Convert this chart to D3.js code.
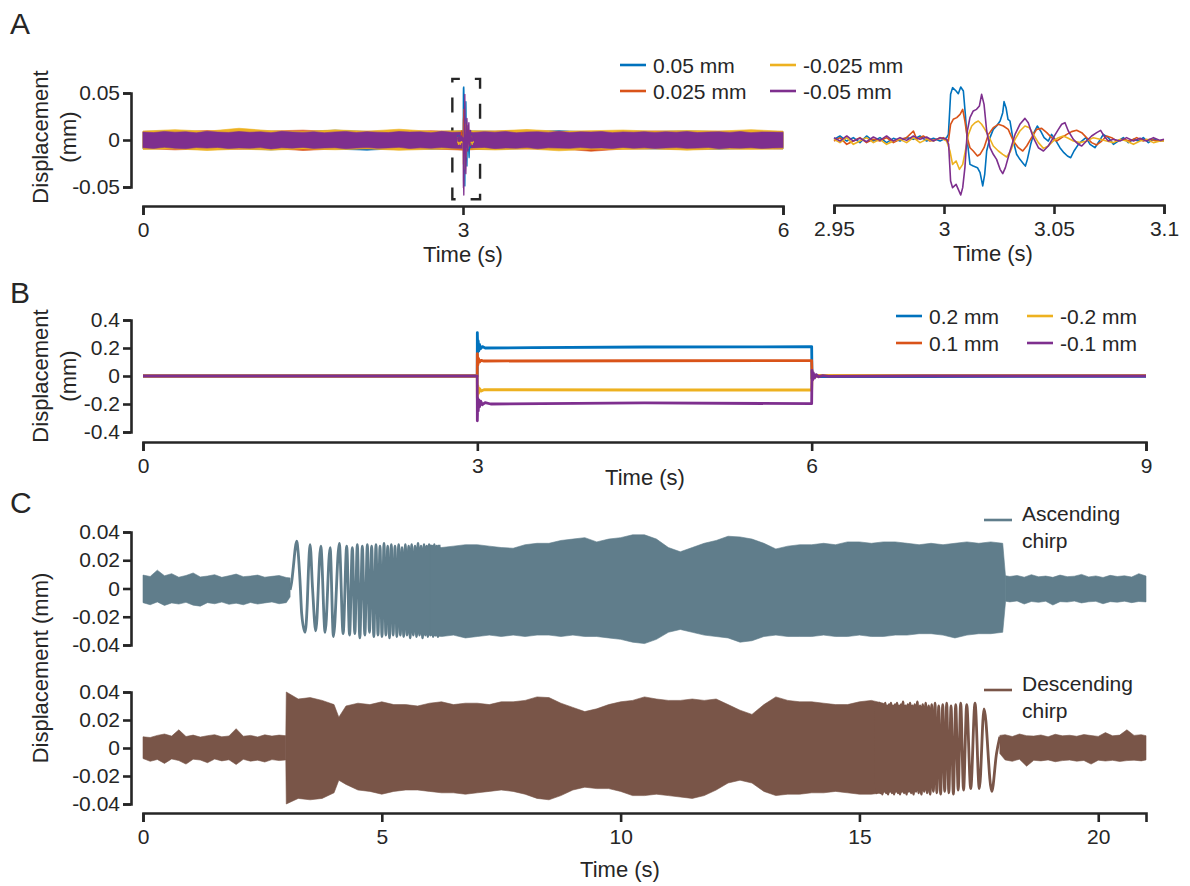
<!DOCTYPE html>
<html>
<head>
<meta charset="utf-8">
<script src="https://cdn.jsdelivr.net/npm/d3@7"></script>
<style>
  body { margin: 0; background: #fff; }
</style>
</head>
<body>
<div id="chart"></div>
<script>
// ---------------- data ----------------
const seriesColors = ["#0072BD", "#D95319", "#EDB120", "#7E2F8E"];
const legendA = ["0.05 mm", "0.025 mm", "-0.025 mm", "-0.05 mm"];
const legendB = ["0.2 mm", "0.1 mm", "-0.2 mm", "-0.1 mm"];
const chirpNames = ["Ascending chirp", "Descending chirp"];
const chirpColors = ["#607D8B", "#795548"];

const ticksAx = [0, 3, 6];
const ticksAy = [-0.05, 0, 0.05];
const ticksAzoom = [2.95, 3, 3.05, 3.1];
const ticksBx = [0, 3, 6, 9];
const ticksBy = [-0.4, -0.2, 0, 0.2, 0.4];
const ticksCx = [0, 5, 10, 15, 20];
const ticksCy = [-0.04, -0.02, 0, 0.02, 0.04];

// panel A, noise envelope (s, mm)
const tA = [0,0.1,0.2,0.3,0.4,0.5,0.6,0.7,0.8,0.9,1,1.1,1.2,1.3,1.4,1.5,1.6,1.7,1.8,1.9,
  2,2.1,2.2,2.3,2.4,2.5,2.6,2.7,2.8,2.9,3,3.1,3.2,3.3,3.4,3.5,3.6,3.7,3.8,3.9,
  4,4.1,4.2,4.3,4.4,4.5,4.6,4.7,4.8,4.9,5,5.1,5.2,5.3,5.4,5.5,5.6,5.7,5.8,5.9,6];
const purpleUpA = [0.0085,0.0079,0.0091,0.0083,0.0088,0.0076,0.0093,0.0084,0.0080,0.0090,
  0.0082,0.0087,0.0078,0.0092,0.0085,0.0081,0.0089,0.0077,0.0086,0.0091,
  0.0080,0.0088,0.0083,0.0079,0.0090,0.0084,0.0087,0.0078,0.0092,0.0082,
  0.0086,0.0080,0.0089,0.0083,0.0091,0.0077,0.0085,0.0088,0.0081,0.0093,
  0.0079,0.0087,0.0084,0.0090,0.0078,0.0086,0.0082,0.0089,0.0080,0.0088,
  0.0083,0.0091,0.0079,0.0085,0.0087,0.0081,0.0090,0.0078,0.0086,0.0084,0.0082];
const purpleLoA = [-0.0082,-0.0090,-0.0078,-0.0087,-0.0093,-0.0080,-0.0086,-0.0079,-0.0091,-0.0084,
  -0.0088,-0.0081,-0.0095,-0.0083,-0.0087,-0.0079,-0.0090,-0.0085,-0.0082,-0.0092,
  -0.0086,-0.0080,-0.0089,-0.0084,-0.0078,-0.0091,-0.0083,-0.0088,-0.0081,-0.0087,
  -0.0090,-0.0084,-0.0079,-0.0092,-0.0085,-0.0088,-0.0080,-0.0094,-0.0083,-0.0086,
  -0.0089,-0.0081,-0.0087,-0.0084,-0.0091,-0.0079,-0.0088,-0.0083,-0.0090,-0.0085,
  -0.0081,-0.0089,-0.0086,-0.0080,-0.0092,-0.0084,-0.0087,-0.0082,-0.0090,-0.0085,-0.0083];
const tA2 = [0,0.3,0.6,0.9,1.2,1.5,1.8,2.1,2.4,2.7,3,3.3,3.6,3.9,4.2,4.5,4.8,5.1,5.4,5.7,6];
const blueUpA = [0.0090,0.0100,0.0085,0.0110,0.0092,0.0088,0.0105,0.0090,0.0095,0.0087,0.0098,0.0092,0.0089,0.0100,0.0086,0.0094,0.0090,0.0097,0.0088,0.0093,0.0090];
const blueLoA = [-0.0095,-0.0088,-0.0100,-0.0092,-0.0105,-0.0090,-0.0096,-0.0110,-0.0089,-0.0098,-0.0093,-0.0100,-0.0090,-0.0096,-0.0102,-0.0091,-0.0097,-0.0093,-0.0099,-0.0090,-0.0094];
const orangeUpA = [0.0092,0.0088,0.0100,0.0090,0.0096,0.0105,0.0089,0.0094,0.0091,0.0099,0.0088,0.0095,0.0102,0.0090,0.0093,0.0089,0.0097,0.0091,0.0094,0.0088,0.0092];
const orangeLoA = [-0.0090,-0.0105,-0.0093,-0.0098,-0.0089,-0.0112,-0.0095,-0.0092,-0.0100,-0.0094,-0.0108,-0.0091,-0.0097,-0.0093,-0.0120,-0.0096,-0.0092,-0.0101,-0.0094,-0.0090,-0.0095];
const yellowUpA = [0.0095,0.0110,0.0093,0.0125,0.0098,0.0090,0.0108,0.0094,0.0115,0.0092,0.0100,0.0096,0.0112,0.0093,0.0099,0.0106,0.0094,0.0101,0.0095,0.0110,0.0093];
const yellowLoA = [-0.0100,-0.0094,-0.0112,-0.0097,-0.0108,-0.0095,-0.0104,-0.0093,-0.0110,-0.0099,-0.0096,-0.0106,-0.0094,-0.0115,-0.0098,-0.0101,-0.0095,-0.0108,-0.0097,-0.0100,-0.0096];
const zoomBox = [[2.9, 0.065], [3.16, -0.063]];

// panel A, traces around the step (s, mm)
const blueZoom = [[2.9500,0.0007],[2.9527,0.0043],[2.9558,-0.0011],[2.9588,0.0025],[2.9618,-0.0028],[2.9648,0.0043],[2.9679,-0.0011],[2.9709,0.0025],[2.9739,-0.0028],[2.9770,0.0018],[2.9800,-0.0011],[2.9830,0.0025],[2.9861,0.0007],[2.9891,0.0043],[2.9921,-0.0011],[2.9952,0.0018],[2.9982,-0.0011],[3.0012,0.0025],[3.0020,0.0060],[3.0030,0.0486],[3.0039,0.0557],[3.0055,0.0521],[3.0065,0.0493],[3.0076,0.0564],[3.0088,0.0521],[3.0097,0.0273],[3.0106,-0.0011],[3.0118,-0.0259],[3.0133,-0.0277],[3.0152,-0.0294],[3.0164,-0.0348],[3.0176,-0.0489],[3.0185,-0.0365],[3.0194,-0.0117],[3.0209,0.0025],[3.0224,0.0113],[3.0239,0.0149],[3.0255,0.0202],[3.0267,0.0291],[3.0273,0.0408],[3.0282,0.0344],[3.0291,0.0220],[3.0300,0.0202],[3.0315,-0.0011],[3.0330,-0.0152],[3.0345,-0.0206],[3.0361,-0.0252],[3.0370,-0.0277],[3.0379,-0.0206],[3.0394,-0.0046],[3.0409,0.0078],[3.0424,0.0149],[3.0439,0.0096],[3.0455,0.0025],[3.0474,-0.0011],[3.0489,0.0060],[3.0505,0.0007],[3.0527,-0.0082],[3.0545,-0.0135],[3.0561,-0.0170],[3.0576,-0.0188],[3.0591,-0.0117],[3.0611,-0.0046],[3.0626,-0.0011],[3.0645,0.0025],[3.0664,-0.0046],[3.0686,-0.0082],[3.0706,-0.0011],[3.0724,0.0060],[3.0747,0.0025],[3.0770,-0.0046],[3.0792,-0.0011],[3.0815,0.0025],[3.0838,-0.0028],[3.0861,0.0007],[3.0883,-0.0011],[3.0906,0.0025],[3.0929,-0.0028],[3.0952,0.0007],[3.0982,-0.0011],[3.1000,-0.0004]];
const orangeZoom = [[2.9500,-0.0011],[2.9527,0.0025],[2.9558,-0.0046],[2.9588,-0.0011],[2.9618,0.0025],[2.9648,-0.0028],[2.9679,0.0007],[2.9709,-0.0011],[2.9739,0.0025],[2.9770,-0.0028],[2.9800,0.0007],[2.9830,0.0025],[2.9861,0.0096],[2.9876,0.0007],[2.9906,0.0043],[2.9936,-0.0011],[2.9967,0.0007],[2.9997,0.0025],[3.0020,-0.0011],[3.0030,0.0167],[3.0042,0.0220],[3.0058,0.0238],[3.0073,0.0273],[3.0085,0.0326],[3.0095,0.0202],[3.0106,0.0025],[3.0118,-0.0082],[3.0133,-0.0117],[3.0152,-0.0170],[3.0164,-0.0152],[3.0182,-0.0082],[3.0202,0.0060],[3.0224,0.0131],[3.0247,0.0167],[3.0270,0.0149],[3.0292,0.0113],[3.0315,-0.0011],[3.0338,-0.0082],[3.0358,-0.0117],[3.0376,-0.0064],[3.0398,0.0025],[3.0421,0.0113],[3.0444,0.0124],[3.0467,0.0078],[3.0489,0.0025],[3.0512,-0.0011],[3.0535,0.0025],[3.0558,0.0060],[3.0580,0.0089],[3.0603,0.0103],[3.0626,0.0078],[3.0648,0.0025],[3.0671,-0.0028],[3.0694,-0.0053],[3.0717,-0.0011],[3.0739,0.0043],[3.0762,0.0025],[3.0785,-0.0011],[3.0815,0.0007],[3.0845,-0.0011],[3.0876,0.0025],[3.0906,-0.0011],[3.0936,0.0007],[3.0967,-0.0011],[3.1000,-0.0004]];
const yellowZoom = [[2.9500,0.0007],[2.9527,-0.0028],[2.9558,0.0025],[2.9588,-0.0046],[2.9618,-0.0011],[2.9648,0.0025],[2.9679,-0.0028],[2.9709,0.0007],[2.9739,-0.0046],[2.9770,-0.0011],[2.9800,0.0007],[2.9830,-0.0028],[2.9861,0.0025],[2.9891,-0.0028],[2.9921,0.0007],[2.9952,-0.0011],[2.9982,0.0025],[3.0012,-0.0011],[3.0027,-0.0117],[3.0039,-0.0259],[3.0055,-0.0223],[3.0070,-0.0312],[3.0085,-0.0259],[3.0097,-0.0117],[3.0111,0.0060],[3.0126,0.0149],[3.0141,0.0184],[3.0156,0.0202],[3.0171,0.0167],[3.0186,0.0113],[3.0206,0.0025],[3.0224,-0.0064],[3.0247,-0.0117],[3.0267,-0.0152],[3.0285,-0.0181],[3.0303,-0.0117],[3.0323,0.0007],[3.0345,0.0096],[3.0368,0.0149],[3.0388,0.0131],[3.0406,0.0060],[3.0429,-0.0028],[3.0452,-0.0089],[3.0474,-0.0064],[3.0497,-0.0011],[3.0520,0.0025],[3.0542,0.0043],[3.0565,0.0018],[3.0588,-0.0011],[3.0618,-0.0028],[3.0648,-0.0011],[3.0679,0.0025],[3.0709,0.0007],[3.0739,-0.0011],[3.0770,-0.0028],[3.0800,0.0007],[3.0830,-0.0011],[3.0861,-0.0046],[3.0891,-0.0011],[3.0921,0.0007],[3.0952,-0.0028],[3.0982,-0.0011],[3.1000,-0.0011]];
const purpleZoom = [[2.9500,0.0025],[2.9527,-0.0011],[2.9558,0.0043],[2.9588,-0.0011],[2.9618,0.0018],[2.9648,-0.0018],[2.9679,0.0032],[2.9709,-0.0004],[2.9739,0.0043],[2.9770,-0.0011],[2.9800,0.0025],[2.9830,-0.0004],[2.9861,0.0043],[2.9891,0.0007],[2.9921,0.0032],[2.9952,-0.0011],[2.9982,0.0025],[3.0012,0.0007],[3.0021,-0.0046],[3.0030,-0.0436],[3.0039,-0.0507],[3.0055,-0.0472],[3.0065,-0.0525],[3.0076,-0.0585],[3.0085,-0.0507],[3.0095,-0.0294],[3.0106,0.0096],[3.0118,0.0238],[3.0133,0.0309],[3.0148,0.0326],[3.0161,0.0362],[3.0171,0.0486],[3.0182,0.0379],[3.0194,0.0096],[3.0209,-0.0082],[3.0224,-0.0152],[3.0239,-0.0206],[3.0255,-0.0312],[3.0267,-0.0358],[3.0279,-0.0294],[3.0300,-0.0117],[3.0323,0.0060],[3.0345,0.0167],[3.0368,0.0230],[3.0383,0.0184],[3.0406,0.0025],[3.0429,-0.0082],[3.0452,-0.0117],[3.0474,-0.0064],[3.0497,0.0025],[3.0520,0.0113],[3.0535,0.0167],[3.0550,0.0184],[3.0565,0.0096],[3.0588,0.0007],[3.0611,-0.0046],[3.0626,-0.0064],[3.0648,-0.0011],[3.0671,0.0043],[3.0694,0.0078],[3.0712,0.0103],[3.0727,0.0043],[3.0747,-0.0011],[3.0770,0.0007],[3.0800,-0.0011],[3.0830,0.0025],[3.0861,-0.0011],[3.0891,0.0018],[3.0921,-0.0011],[3.0952,0.0025],[3.0982,-0.0004],[3.1000,0.0007]];

// panel B, step responses (s, mm)
const blueB = [[0,0],[2.999,0],[3.0,0.31],[3.004,0.17],[3.008,0.25],[3.013,0.18],[3.02,0.225],[3.03,0.195],[3.045,0.21],[3.07,0.2],[3.5,0.203],[4.5,0.207],[5.5,0.208],[5.999,0.21],[6.0,0.21],[6.003,-0.02],[6.01,0.015],[6.02,-0.012],[6.04,0.005],[6.08,-0.004],[7,-0.004],[8,-0.003],[9,-0.003]];
const orangeB = [[0,0],[2.999,0],[3.0,0.16],[3.005,0.08],[3.01,0.125],[3.02,0.1],[3.035,0.112],[3.06,0.107],[4.5,0.109],[5.999,0.11],[6.0,0.11],[6.004,-0.015],[6.012,0.01],[6.03,-0.004],[6.06,0.002],[9,0.002]];
const yellowB = [[0,0],[2.999,0],[3.0,-0.16],[3.005,-0.07],[3.01,-0.125],[3.02,-0.09],[3.035,-0.108],[3.06,-0.098],[4.5,-0.1],[5.999,-0.1],[6.0,-0.1],[6.004,0.015],[6.012,-0.01],[6.03,0.004],[6.06,0.003],[9,0.003]];
const purpleB = [[0,0],[2.999,0],[3.0,-0.32],[3.004,-0.16],[3.008,-0.25],[3.013,-0.17],[3.02,-0.22],[3.03,-0.18],[3.045,-0.205],[3.07,-0.19],[3.12,-0.2],[4.5,-0.192],[5.999,-0.198],[6.0,-0.198],[6.003,0.04],[6.008,-0.03],[6.015,0.022],[6.025,-0.015],[6.04,0.01],[6.06,-0.006],[6.1,0.003],[6.15,-0.002],[7,0],[9,0]];

// panel C, ascending chirp (s, mm)
const ascPreT = [0,0.15,0.3,0.45,0.6,0.75,0.9,1.05,1.2,1.35,1.5,1.65,1.8,1.95,2.1,2.25,2.4,2.55,2.7,2.85,3.0,3.08];
const ascPreUp = [0.0095,0.0085,0.0130,0.0090,0.0105,0.0080,0.0092,0.0110,0.0082,0.0088,0.0098,0.0079,0.0090,0.0102,0.0084,0.0088,0.0095,0.0080,0.0086,0.0092,0.0078,0.0075];
const ascPreLo = [-0.0100,-0.0115,-0.0095,-0.0120,-0.0102,-0.0110,-0.0098,-0.0118,-0.0125,-0.0100,-0.0108,-0.0096,-0.0112,-0.0104,-0.0115,-0.0099,-0.0110,-0.0102,-0.0095,-0.0108,-0.0100,-0.0060];
const ascChirp = [[3.08,-0.001],[3.11,0.004],[3.15,0.016],[3.19,0.029],[3.218,0.0335],[3.25,0.025],[3.288,0.005],[3.323,-0.018],[3.393,-0.031],[3.44,-0.01],[3.463,0.012],[3.498,0.031],[3.55,0.0],[3.617,-0.030],[3.722,0.030],[3.813,-0.031],[3.917,0.029],[3.987,-0.034],[4.11,0.032],[4.19,-0.032],[4.265,0.030],[4.325,-0.033],[4.383,0.029],[4.435,-0.032],[4.487,0.031],[4.54,-0.035],[4.592,0.030],[4.645,-0.033],[4.697,0.031],[4.742,-0.031],[4.787,0.030],[4.833,-0.034],[4.878,0.031],[4.92,-0.033],[4.962,0.030],[5.004,-0.034],[5.046,0.032],[5.085,-0.033],[5.123,0.030],[5.161,-0.035],[5.199,0.031],[5.238,-0.033],[5.276,0.030],[5.315,-0.034],[5.353,0.031],[5.388,-0.033],[5.423,0.029],[5.458,-0.034],[5.493,0.031],[5.528,-0.033],[5.562,0.030],[5.594,-0.035],[5.625,0.031],[5.66,-0.033],[5.695,0.030],[5.727,-0.034],[5.758,0.032],[5.79,-0.033],[5.821,0.030],[5.853,-0.035],[5.884,0.031],[5.912,-0.033],[5.94,0.030],[5.965,-0.034],[5.99,0.031],[6.02,-0.033],[6.05,0.030],[6.075,-0.034],[6.10,0.031],[6.125,-0.033],[6.15,0.030],[6.175,-0.034],[6.20,0.031]];
const ascBandT = [6,6.25,6.5,6.75,7,7.25,7.5,7.75,8,8.25,8.5,8.75,9,9.25,9.5,9.75,10,10.25,10.5,10.75,11,11.25,11.5,11.75,12,12.25,12.5,12.75,13,13.25,13.5,13.75,14,14.25,14.5,14.75,15,15.25,15.5,15.75,16,16.25,16.5,16.75,17,17.25,17.5,17.75,18,18.06];
const ascBandUp = [0.031,0.029,0.030,0.031,0.031,0.030,0.029,0.0285,0.031,0.032,0.032,0.034,0.035,0.036,0.033,0.035,0.036,0.038,0.038,0.035,0.029,0.026,0.029,0.032,0.034,0.037,0.0365,0.035,0.032,0.028,0.030,0.031,0.031,0.032,0.031,0.033,0.033,0.032,0.033,0.033,0.032,0.031,0.032,0.031,0.032,0.033,0.032,0.033,0.032,0.008];
const ascBandLo = [-0.033,-0.034,-0.033,-0.035,-0.034,-0.033,-0.034,-0.033,-0.034,-0.033,-0.033,-0.034,-0.033,-0.034,-0.034,-0.035,-0.036,-0.038,-0.039,-0.036,-0.031,-0.029,-0.031,-0.033,-0.034,-0.035,-0.038,-0.037,-0.034,-0.033,-0.034,-0.034,-0.034,-0.033,-0.034,-0.034,-0.033,-0.034,-0.034,-0.033,-0.033,-0.032,-0.032,-0.033,-0.035,-0.033,-0.032,-0.032,-0.031,-0.009];
const ascPostT = [18.06,18.15,18.3,18.45,18.6,18.75,18.9,19.05,19.2,19.35,19.5,19.65,19.8,19.95,20.1,20.25,20.4,20.55,20.7,20.85,21.0];
const ascPostUp = [0.0090,0.0085,0.0092,0.0080,0.0098,0.0083,0.0088,0.0079,0.0095,0.0084,0.0087,0.0100,0.0082,0.0089,0.0078,0.0093,0.0085,0.0090,0.0081,0.0105,0.0088];
const ascPostLo = [-0.0090,-0.0095,-0.0088,-0.0110,-0.0092,-0.0098,-0.0090,-0.0117,-0.0093,-0.0096,-0.0089,-0.0102,-0.0094,-0.0091,-0.0108,-0.0093,-0.0097,-0.0090,-0.0100,-0.0092,-0.0095];

// panel C, descending chirp (s, mm)
const descPreT = [0,0.15,0.3,0.45,0.6,0.75,0.9,1.05,1.2,1.35,1.5,1.65,1.8,1.95,2.1,2.25,2.4,2.55,2.7,2.85,2.99];
const descPreUp = [0.0080,0.0075,0.0090,0.0100,0.0085,0.0130,0.0082,0.0092,0.0078,0.0088,0.0095,0.0080,0.0086,0.0138,0.0084,0.0090,0.0079,0.0094,0.0085,0.0092,0.0088];
const descPreLo = [-0.0075,-0.0095,-0.0082,-0.0110,-0.0078,-0.0090,-0.0115,-0.0080,-0.0086,-0.0105,-0.0079,-0.0092,-0.0084,-0.0118,-0.0081,-0.0094,-0.0087,-0.0100,-0.0083,-0.0090,-0.0085];
const descBandT = [2.99,3,3.25,3.5,3.75,4,4.1,4.25,4.5,4.75,5,5.25,5.5,5.75,6,6.25,6.5,6.75,7,7.25,7.5,7.75,8,8.25,8.5,8.75,9,9.25,9.5,9.75,10,10.25,10.5,10.75,11,11.25,11.5,11.75,12,12.25,12.5,12.75,13,13.25,13.5,13.75,14,14.25,14.5,14.75,15,15.25,15.5];
const descBandUp = [0.008,0.040,0.035,0.036,0.034,0.031,0.022,0.030,0.032,0.031,0.033,0.031,0.031,0.030,0.032,0.033,0.031,0.032,0.032,0.031,0.033,0.033,0.034,0.0365,0.036,0.032,0.029,0.026,0.028,0.031,0.033,0.034,0.0365,0.035,0.034,0.034,0.035,0.034,0.035,0.031,0.027,0.024,0.031,0.0365,0.034,0.033,0.033,0.032,0.031,0.031,0.033,0.034,0.032];
const descBandLo = [-0.008,-0.040,-0.036,-0.037,-0.036,-0.032,-0.023,-0.026,-0.030,-0.031,-0.033,-0.031,-0.030,-0.030,-0.031,-0.032,-0.032,-0.033,-0.032,-0.031,-0.030,-0.031,-0.033,-0.036,-0.037,-0.034,-0.030,-0.028,-0.029,-0.029,-0.031,-0.034,-0.034,-0.033,-0.034,-0.035,-0.036,-0.034,-0.030,-0.025,-0.023,-0.025,-0.031,-0.034,-0.033,-0.033,-0.032,-0.032,-0.031,-0.032,-0.033,-0.033,-0.032];
const descChirp = [[15.34,0.031],[15.36,-0.032],[15.38,0.031],[15.40,-0.031],[15.42,0.032],[15.44,-0.032],[15.46,0.030],[15.48,-0.033],[15.50,0.031],[15.52,-0.031],[15.54,0.032],[15.56,-0.032],[15.58,0.030],[15.60,-0.033],[15.62,0.031],[15.64,-0.031],[15.66,0.032],[15.682,-0.032],[15.704,0.030],[15.725,-0.033],[15.745,0.031],[15.766,-0.031],[15.787,0.032],[15.808,-0.032],[15.829,0.030],[15.85,-0.033],[15.871,0.031],[15.892,-0.031],[15.913,0.033],[15.937,-0.032],[15.961,0.030],[15.986,-0.033],[16.011,0.031],[16.035,-0.031],[16.06,0.032],[16.084,-0.032],[16.108,0.030],[16.132,-0.033],[16.157,0.031],[16.185,-0.031],[16.213,0.033],[16.241,-0.032],[16.269,0.030],[16.297,-0.033],[16.325,0.031],[16.356,-0.031],[16.387,0.032],[16.418,-0.032],[16.45,0.030],[16.48,-0.033],[16.513,0.031],[16.548,-0.031],[16.583,0.032],[16.62,-0.032],[16.66,0.030],[16.70,-0.033],[16.744,0.031],[16.785,-0.031],[16.827,0.032],[16.872,-0.032],[16.918,0.030],[16.967,-0.033],[17.016,0.031],[17.068,-0.030],[17.12,0.032],[17.18,-0.030],[17.246,0.031],[17.33,-0.029],[17.42,0.032],[17.51,-0.029],[17.609,0.028],[17.77,-0.031],[17.87,-0.004],[17.94,0.008]];
const descPostT = [17.94,18.05,18.2,18.35,18.5,18.65,18.8,18.95,19.1,19.25,19.4,19.55,19.7,19.85,20.0,20.15,20.3,20.45,20.6,20.75,20.9,21.0];
const descPostUp = [0.0090,0.0095,0.0082,0.0100,0.0088,0.0085,0.0093,0.0080,0.0098,0.0087,0.0091,0.0084,0.0096,0.0089,0.0083,0.0110,0.0087,0.0092,0.0130,0.0090,0.0095,0.0088];
const descPostLo = [-0.0040,-0.0085,-0.0095,-0.0080,-0.0130,-0.0088,-0.0092,-0.0085,-0.0098,-0.0090,-0.0086,-0.0094,-0.0089,-0.0115,-0.0087,-0.0093,-0.0088,-0.0096,-0.0090,-0.0087,-0.0092,-0.0085];

// ---------------- drawing ----------------
const FONT = "'Liberation Sans', Arial, Helvetica, sans-serif";
const INK = "#262626";
const FS = 21;

const svg = d3.select("#chart").append("svg")
  .attr("width", 1190)
  .attr("height", 886)
  .style("font-family", FONT);

const xA = d3.scaleLinear().domain([0, 6]).range([143, 783]);
const yA = d3.scaleLinear().domain([-0.05, 0.05]).range([187, 93]);
const xAz = d3.scaleLinear().domain([2.95, 3.1]).range([834, 1164]);
const xB = d3.scaleLinear().domain([0, 9]).range([143, 1146]);
const yB = d3.scaleLinear().domain([-0.4, 0.4]).range([432, 320]);
const xC = d3.scaleLinear().domain([0, 21]).range([143, 1146]);
const yC1 = d3.scaleLinear().domain([-0.04, 0.04]).range([645, 532]);
const yC2 = d3.scaleLinear().domain([-0.04, 0.04]).range([804, 692]);

function styleAxis(g) {
  g.attr("font-family", FONT).attr("font-size", FS);
  g.select(".domain").attr("stroke", INK).attr("stroke-width", 2.6);
  g.selectAll(".tick line").attr("stroke", INK).attr("stroke-width", 2.6);
  g.selectAll(".tick text").attr("fill", INK);
}

function xAxis(scale, y, ticks) {
  const g = svg.append("g")
    .attr("transform", `translate(0, ${y})`)
    .call(d3.axisBottom(scale).tickValues(ticks).tickSize(9).tickSizeOuter(9)
      .tickPadding(7).tickFormat(d => String(d)));
  styleAxis(g);
}

function yAxis(scale, x, ticks) {
  const g = svg.append("g")
    .attr("transform", `translate(${x}, 0)`)
    .call(d3.axisLeft(scale).tickValues(ticks).tickSize(8).tickSizeOuter(8)
      .tickPadding(3).tickFormat(d => String(d)));
  styleAxis(g);
}

function label(txt, x, y, opts = {}) {
  const t = svg.append("text")
    .attr("x", x).attr("y", y)
    .attr("fill", INK)
    .attr("font-size", opts.size || FS)
    .attr("text-anchor", opts.anchor || "middle")
    .text(txt);
  if (opts.rotate) t.attr("transform", `rotate(-90, ${x}, ${y})`);
  return t;
}

function band(xs, ys, times, up, lo, color) {
  const rows = times.map((t, i) => ({ t: t, up: up[i], lo: lo[i] }));
  svg.append("path")
    .datum(rows)
    .attr("fill", color)
    .attr("stroke", color)
    .attr("stroke-width", 0.6)
    .attr("d", d3.area().x(d => xs(d.t)).y0(d => ys(d.lo)).y1(d => ys(d.up)));
}

function trace(xs, ys, pts, color, w, curve) {
  svg.append("path")
    .datum(pts)
    .attr("fill", "none")
    .attr("stroke", color)
    .attr("stroke-width", w)
    .attr("stroke-linejoin", "round")
    .attr("d", d3.line().x(d => xs(d[0])).y(d => ys(d[1])).curve(curve || d3.curveLinear));
}

function legend(names, colors, x0, dx, y0, dy) {
  names.forEach((n, i) => {
    const col = Math.floor(i / 2), row = i % 2;
    const lx = x0 + col * dx, ly = y0 + row * dy;
    svg.append("line")
      .attr("x1", lx).attr("x2", lx + 26)
      .attr("y1", ly).attr("y2", ly)
      .attr("stroke", colors[i]).attr("stroke-width", 2.6);
    label(n, lx + 33, ly + 8, { anchor: "start" });
  });
}

// panel letters
label("A", 10, 34, { anchor: "start", size: 30 });
label("B", 10, 303, { anchor: "start", size: 30 });
label("C", 10, 513, { anchor: "start", size: 30 });

// ---- panel A ----
svg.append("rect")
  .attr("x", xA(zoomBox[0][0]))
  .attr("y", yA(zoomBox[0][1]))
  .attr("width", xA(zoomBox[1][0]) - xA(zoomBox[0][0]))
  .attr("height", yA(zoomBox[1][1]) - yA(zoomBox[0][1]))
  .attr("fill", "none")
  .attr("stroke", INK)
  .attr("stroke-width", 2.4)
  .attr("stroke-dasharray", "15,15")
  .attr("stroke-dashoffset", 7.5);

band(xA, yA, tA2, blueUpA, blueLoA, seriesColors[0]);
band(xA, yA, tA2, orangeUpA, orangeLoA, seriesColors[1]);
band(xA, yA, tA2, yellowUpA, yellowLoA, seriesColors[2]);
band(xA, yA, tA, purpleUpA, purpleLoA, seriesColors[3]);

const zoomTraces = [blueZoom, orangeZoom, yellowZoom, purpleZoom];
zoomTraces.forEach((tr, i) => trace(xA, yA, tr, seriesColors[i], 1.3));
zoomTraces.forEach((tr, i) => trace(xAz, yA, tr, seriesColors[i], 1.6));

yAxis(yA, 131, ticksAy);
xAxis(xA, 206, ticksAx);
xAxis(xAz, 205, ticksAzoom);
label("Displacement", 48, 137, { rotate: true, size: 22 });
label("(mm)", 76, 137, { rotate: true, size: 22 });
label("Time (s)", 463, 262, { size: 22 });
label("Time (s)", 993, 261, { size: 22 });
legend(legendA, seriesColors, 620, 150, 65, 26);

// ---- panel B ----
[blueB, orangeB, yellowB, purpleB].forEach((tr, i) => trace(xB, yB, tr, seriesColors[i], 2.8));
yAxis(yB, 131, ticksBy);
xAxis(xB, 442, ticksBx);
label("Displacement", 48, 376, { rotate: true, size: 22 });
label("(mm)", 76, 376, { rotate: true, size: 22 });
label("Time (s)", 645, 485, { size: 22 });
legend(legendB, seriesColors, 896, 131, 316, 27);

// ---- panel C ----
band(xC, yC1, ascPreT, ascPreUp, ascPreLo, chirpColors[0]);
trace(xC, yC1, ascChirp, chirpColors[0], 2.8, d3.curveMonotoneX);
band(xC, yC1, ascBandT, ascBandUp, ascBandLo, chirpColors[0]);
band(xC, yC1, ascPostT, ascPostUp, ascPostLo, chirpColors[0]);

band(xC, yC2, descPreT, descPreUp, descPreLo, chirpColors[1]);
band(xC, yC2, descBandT, descBandUp, descBandLo, chirpColors[1]);
trace(xC, yC2, descChirp, chirpColors[1], 2.8, d3.curveMonotoneX);
band(xC, yC2, descPostT, descPostUp, descPostLo, chirpColors[1]);

yAxis(yC1, 131, ticksCy);
yAxis(yC2, 131, ticksCy);
xAxis(xC, 813, ticksCx);
label("Displacement (mm)", 48, 668, { rotate: true, size: 22 });
label("Time (s)", 620, 877, { size: 22 });

// chirp legends
[[520, 521], [690, 691]].forEach((pos, i) => {
  svg.append("line")
    .attr("x1", 984).attr("x2", 1012)
    .attr("y1", pos[0]).attr("y2", pos[0])
    .attr("stroke", chirpColors[i]).attr("stroke-width", 2.6);
  const words = chirpNames[i].split(" ");
  label(words[0], 1022, pos[1], { anchor: "start" });
  label(words[1], 1022, pos[1] + 27, { anchor: "start" });
});
</script>
</body>
</html>
